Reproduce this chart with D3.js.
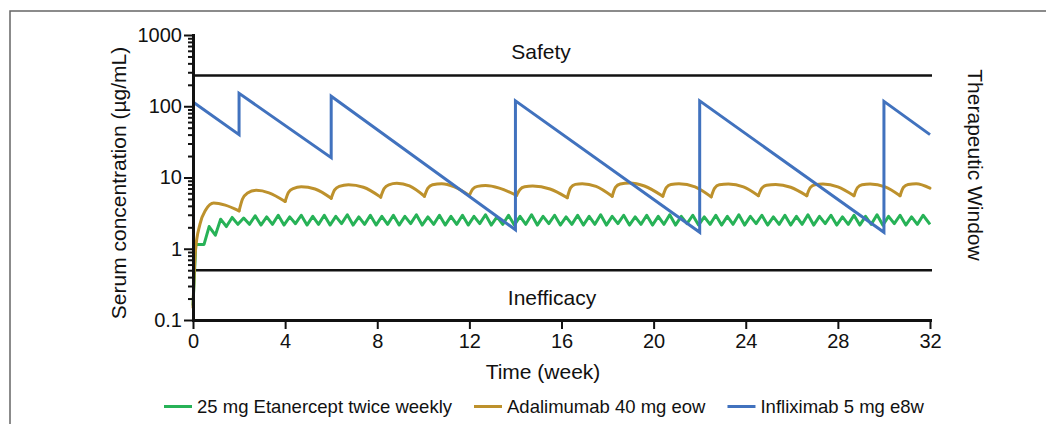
<!DOCTYPE html>
<html>
<head>
<meta charset="utf-8">
<script src="https://cdn.jsdelivr.net/npm/d3@7"></script>
<style>
  body { margin: 0; background: #fff; }
  svg text { font-family: "Liberation Sans", Arial, sans-serif; fill: #111; }
</style>
</head>
<body>
<svg id="chart" width="1046" height="424"></svg>
<script>
// tick values
var xTicks = [0, 4, 8, 12, 16, 20, 24, 28, 32]
var yTicks = [0.1, 1, 10, 100, 1000]
var yTickLabels = ["0.1", "1", "10", "100", "1000"]

// therapeutic window limits (µg/mL)
var safetyLevel = 270
var inefficacyLevel = 0.5

// series names
var seriesNames = ["25 mg Etanercept twice weekly", "Adalimumab 40 mg eow", "Infliximab 5 mg e8w"]
var seriesColors = ["#27b257", "#bd912c", "#4172be"]

// infliximab, e8w (week, µg/mL)
var inflixTime = [0, 2, 2, 6, 6, 14, 14, 22, 22, 30, 30, 32]
var inflixConc = [115, 40, 152, 19, 138, 1.85, 119, 1.7, 119, 1.7, 117, 40]

// adalimumab, eow dose times and (week, µg/mL) points
var adaDoses = [0, 2, 4, 6, 8.15, 10.05, 12, 14.05, 16.25, 18.2, 20.4, 22.5, 24.55, 26.65, 28.7, 30.7, 32]
var adalimumab = [
  [0, 0.15], [0.1, 0.9], [0.3, 2.2], [0.55, 3.5], [0.9, 4.4], [1.4, 4.1], [2, 3.4],
  [2.15, 5.0], [2.35, 6.0], [2.75, 6.6], [3.3, 6.1], [4, 4.6],
  [4.15, 6.2], [4.35, 7.0], [4.7, 7.4], [5.3, 6.9], [6, 5.1],
  [6.15, 6.7], [6.35, 7.5], [6.75, 7.9], [7.4, 7.3], [8.15, 5.3],
  [8.3, 7.0], [8.5, 7.9], [8.85, 8.3], [9.4, 7.6], [10.05, 5.45],
  [10.2, 7.1], [10.4, 7.9], [10.8, 8.2], [11.35, 7.4], [12, 5.6],
  [12.15, 6.9], [12.35, 7.5], [12.7, 7.7], [13.3, 7.1], [14.05, 5.6],
  [14.2, 6.8], [14.4, 7.4], [14.75, 7.6], [15.5, 6.9], [16.25, 5.2],
  [16.4, 7.2], [16.6, 8.0], [16.9, 8.2], [17.5, 7.5], [18.2, 5.45],
  [18.35, 7.3], [18.55, 8.1], [18.95, 8.4], [19.6, 7.6], [20.4, 5.45],
  [20.55, 7.2], [20.75, 8.0], [21.1, 8.2], [21.8, 7.4], [22.5, 5.35],
  [22.65, 7.1], [22.85, 7.9], [23.25, 8.1], [23.9, 7.4], [24.55, 5.55],
  [24.7, 7.1], [24.9, 7.8], [25.3, 8.0], [25.95, 7.3], [26.65, 5.55],
  [26.8, 7.2], [27.0, 7.9], [27.35, 8.1], [28.0, 7.4], [28.7, 5.55],
  [28.85, 7.2], [29.05, 7.9], [29.4, 8.1], [30.05, 7.4], [30.7, 5.55],
  [30.85, 7.3], [31.05, 8.0], [31.4, 8.2], [32, 7.1]
]

// etanercept, twice weekly (week, µg/mL)
var etanercept = [
  [0, 0.16], [0.12, 1.15], [0.48, 1.15], [0.7, 2.05], [0.97, 1.55], [1.2, 2.6], [1.45, 2.05], [1.7, 2.75], [1.95, 2.2],
  [2.2, 2.7], [2.45, 2.2], [2.7, 2.9], [2.95, 2.15], [3.2, 2.8], [3.45, 2.2], [3.7, 2.95], [3.95, 2.15],
  [4.2, 2.8], [4.45, 2.25], [4.7, 2.95], [4.95, 2.15], [5.2, 2.85], [5.45, 2.2], [5.7, 2.95], [5.95, 2.15],
  [6.2, 2.85], [6.45, 2.25], [6.7, 3.0], [6.95, 2.15], [7.2, 2.8], [7.45, 2.2], [7.7, 2.95], [7.95, 2.15],
  [8.2, 2.85], [8.45, 2.2], [8.7, 2.95], [8.95, 2.15], [9.2, 2.85], [9.45, 2.25], [9.7, 3.0], [9.95, 2.15],
  [10.2, 2.8], [10.45, 2.2], [10.7, 2.95], [10.95, 2.15], [11.2, 2.85], [11.45, 2.2], [11.7, 2.95], [11.95, 2.15],
  [12.2, 2.85], [12.45, 2.25], [12.7, 3.0], [12.95, 2.15], [13.2, 2.8], [13.45, 2.2], [13.7, 2.95], [13.95, 2.15],
  [14.2, 2.85], [14.45, 2.2], [14.7, 3.0], [14.95, 2.15], [15.2, 2.85], [15.45, 2.25], [15.7, 2.95], [15.95, 2.15],
  [16.2, 2.8], [16.45, 2.2], [16.7, 2.95], [16.95, 2.15], [17.2, 2.85], [17.45, 2.2], [17.7, 3.0], [17.95, 2.15],
  [18.2, 2.85], [18.45, 2.25], [18.7, 2.95], [18.95, 2.15], [19.2, 2.8], [19.45, 2.2], [19.7, 2.95], [19.95, 2.15],
  [20.2, 2.85], [20.45, 2.2], [20.7, 3.0], [20.95, 2.15], [21.2, 2.85], [21.45, 2.25], [21.7, 2.95], [21.95, 2.15],
  [22.2, 2.8], [22.45, 2.2], [22.7, 2.95], [22.95, 2.15], [23.2, 2.85], [23.45, 2.2], [23.7, 3.0], [23.95, 2.15],
  [24.2, 2.85], [24.45, 2.25], [24.7, 2.95], [24.95, 2.15], [25.2, 2.8], [25.45, 2.2], [25.7, 2.95], [25.95, 2.15],
  [26.2, 2.85], [26.45, 2.2], [26.7, 3.0], [26.95, 2.15], [27.2, 2.85], [27.45, 2.25], [27.7, 2.95], [27.95, 2.15],
  [28.2, 2.8], [28.45, 2.2], [28.7, 2.95], [28.95, 2.15], [29.2, 2.85], [29.45, 2.2], [29.7, 3.0], [29.95, 2.15],
  [30.2, 2.85], [30.45, 2.25], [30.7, 2.95], [30.95, 2.15], [31.2, 2.8], [31.45, 2.2], [31.7, 2.95], [32, 2.2]
]

var svg = d3.select("#chart")

// outer frame (runs off the right and bottom of the picture)
svg.append("rect")
    .attr("x", 10).attr("y", 11)
    .attr("width", 1100).attr("height", 500)
    .attr("fill", "none")
    .attr("stroke", "#666")
    .attr("stroke-width", 1.5)

var x = d3.scaleLinear().domain([0, 32]).range([193, 930])
var y = d3.scaleLog().domain([0.1, 1000]).range([320, 35])

// minor ticks 2..9 in each decade
var minorTicks = []
yTicks.slice(0, -1).forEach(function(d) {
    for (var i = 2; i < 10; i++) minorTicks.push(d * i)
})

var line = d3.line()
    .x(function(d) { return x(d[0]) })
    .y(function(d) { return y(d[1]) })

// therapeutic window bounds
svg.selectAll(".limit").data([safetyLevel, inefficacyLevel])
    .enter().append("line")
    .attr("class", "limit")
    .attr("x1", x(0)).attr("x2", x(32) + 2)
    .attr("y1", function(d) { return y(d) })
    .attr("y2", function(d) { return y(d) })
    .attr("stroke", "#111")
    .attr("stroke-width", 2.6)

svg.append("text").attr("x", 541).attr("y", 59)
    .attr("text-anchor", "middle").style("font-size", "21px").text("Safety")
svg.append("text").attr("x", 552).attr("y", 305)
    .attr("text-anchor", "middle").style("font-size", "21px").text("Inefficacy")
svg.append("text")
    .attr("transform", "translate(968,165) rotate(90)")
    .attr("text-anchor", "middle").style("font-size", "21px").text("Therapeutic Window")

// etanercept
svg.append("path").datum(etanercept)
    .attr("d", line)
    .attr("fill", "none")
    .attr("stroke", seriesColors[0])
    .attr("stroke-width", 3)
    .attr("stroke-linejoin", "round")

// adalimumab: one smooth piece per dosing interval, sharp at each dose
var adaLine = d3.line()
    .x(function(d) { return x(d[0]) })
    .y(function(d) { return y(d[1]) })
    .curve(d3.curveMonotoneX)
var adaSegs = []
for (var i = 0; i < adaDoses.length - 1; i++) {
    var a = adaDoses[i], b = adaDoses[i + 1]
    adaSegs.push(adalimumab.filter(function(d) { return d[0] >= a && d[0] <= b }))
}
svg.selectAll(".ada").data(adaSegs)
    .enter().append("path")
    .attr("class", "ada")
    .attr("d", adaLine)
    .attr("fill", "none")
    .attr("stroke", seriesColors[1])
    .attr("stroke-width", 3)
    .attr("stroke-linecap", "round")

// infliximab
svg.append("path").datum(d3.zip(inflixTime, inflixConc))
    .attr("d", line)
    .attr("fill", "none")
    .attr("stroke", seriesColors[2])
    .attr("stroke-width", 3)

// axes
var yAxis = svg.append("g")
    .attr("transform", "translate(" + x(0) + ",0)")
    .call(d3.axisLeft(y).tickValues(yTicks).tickSize(9).tickSizeOuter(0).tickPadding(2)
        .tickFormat(function(d, i) { return yTickLabels[i] }))
yAxis.append("g")
    .call(d3.axisLeft(y).tickValues(minorTicks).tickSize(5).tickFormat(""))
    .select(".domain").remove()

var xAxis = svg.append("g")
    .attr("transform", "translate(0," + y(0.1) + ")")
    .call(d3.axisBottom(x).tickValues(xTicks).tickSize(9).tickSizeOuter(0).tickPadding(5))

svg.selectAll(".domain").attr("stroke", "#111").attr("stroke-width", 3).attr("stroke-linecap", "square")
svg.selectAll(".tick line").attr("stroke", "#111").attr("stroke-width", 2)
svg.selectAll(".tick text").style("font-size", "20px").attr("fill", "#111")

svg.append("text").attr("x", 543).attr("y", 379)
    .attr("text-anchor", "middle").style("font-size", "21px").text("Time (week)")
svg.append("text")
    .attr("transform", "translate(126,183) rotate(-90)")
    .attr("text-anchor", "middle").style("font-size", "21px").text("Serum concentration (µg/mL)")

// legend
var legend = svg.append("g")
var lx = 164
seriesNames.forEach(function(name, i) {
    legend.append("line")
        .attr("x1", lx).attr("x2", lx + 28)
        .attr("y1", 406.5).attr("y2", 406.5)
        .attr("stroke", seriesColors[i]).attr("stroke-width", 3)
    var t = legend.append("text")
        .attr("x", lx + 33).attr("y", 413)
        .style("font-size", "18.5px")
        .text(name)
    lx += 33 + t.node().getComputedTextLength() + 22
})
</script>
</body>
</html>
